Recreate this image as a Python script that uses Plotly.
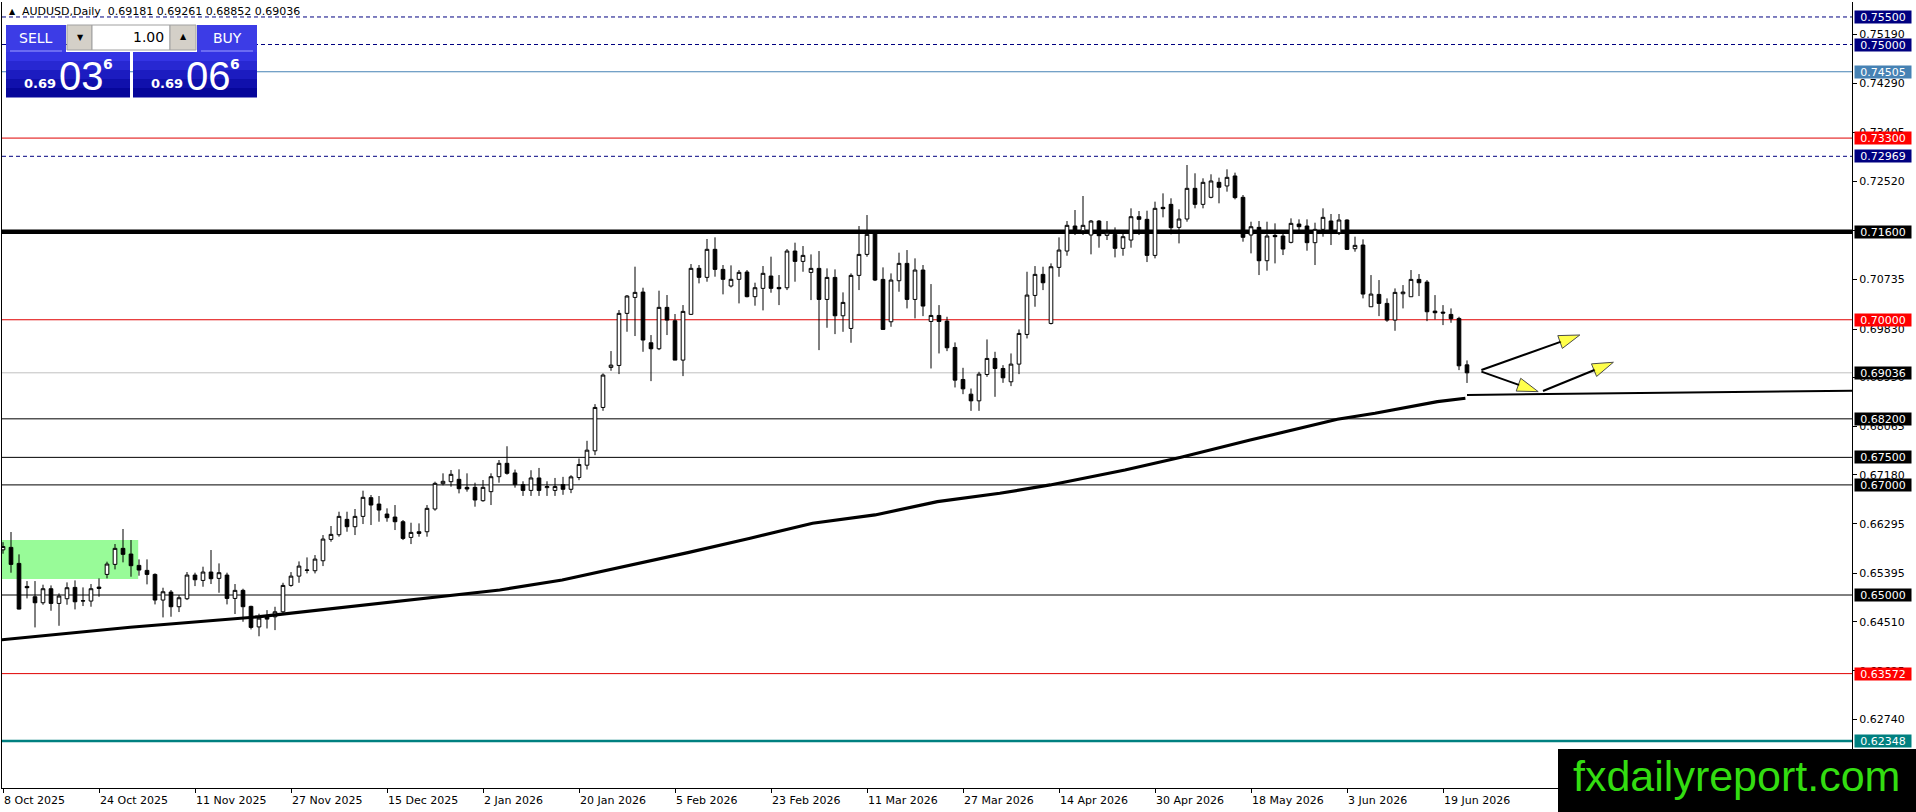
import plotly.graph_objects as go

# ---------------- DATA ----------------
opens = [0.6582,0.65865,0.65574,0.65156,0.64968,0.64859,0.65114,0.64847,0.64932,0.65138,
0.64890,0.64890,0.65144,0.65374,0.65556,0.65847,0.65744,0.65538,0.65447,0.65374,
0.64908,0.65053,0.64787,0.64932,0.65362,0.65265,0.65417,0.65302,0.65362,0.64938,
0.65084,0.64793,0.64420,0.64604,0.64604,0.64695,0.65174,0.65343,0.65447,0.65441,
0.65622,0.66010,0.66095,0.66374,0.66240,0.66428,0.66768,0.66652,0.66471,0.66416,
0.66331,0.66046,0.66149,0.66149,0.66562,0.67022,0.67058,0.67101,0.66955,0.66955,
0.66713,0.66877,0.67149,0.67392,0.67217,0.67005,0.66900,0.67126,0.66950,0.66900,
0.67005,0.66920,0.67134,0.67358,0.67619,0.68407,0.69134,0.69170,0.70116,0.70406,
0.70503,0.69582,0.69473,0.70225,0.69982,0.69267,0.70098,0.70934,0.70770,0.71279,
0.70915,0.70613,0.70734,0.70867,0.70419,0.70570,0.70794,0.70587,0.70581,0.71248,
0.71060,0.70860,0.70933,0.70369,0.70769,0.70072,0.69842,0.70806,0.71187,0.71569,
0.70733,0.69963,0.70709,0.71024,0.70369,0.70903,0.69969,0.70078,0.69975,0.69497,
0.68915,0.68648,0.68527,0.69006,0.69297,0.69115,0.68873,0.69194,0.69733,0.70442,
0.70824,0.69933,0.70951,0.71248,0.71703,0.71618,0.71539,0.71793,0.71533,0.71551,
0.71297,0.71448,0.71872,0.71824,0.71169,0.72042,0.72096,0.71678,0.71830,0.72387,
0.72096,0.72224,0.72496,0.72430,0.72612,0.72224,0.71539,0.71678,0.71072,0.71533,
0.71521,0.71406,0.71739,0.71703,0.71400,0.71642,0.71794,0.71581,0.71812,0.71290,
0.71357,0.70236,0.70460,0.70297,0.69994,0.70472,0.70418,0.70733,0.70684,0.70157,
0.70139,0.70097,0.70024,0.69181]
highs = [0.6596,0.66144,0.65738,0.65253,0.65253,0.65187,0.65174,0.65029,0.65229,0.65265,
0.65138,0.65199,0.65302,0.65605,0.65926,0.66199,0.65999,0.65647,0.65647,0.65393,
0.65132,0.65090,0.64999,0.65417,0.65405,0.65514,0.65817,0.65574,0.65405,0.65199,
0.65114,0.64805,0.64660,0.64725,0.64786,0.65222,0.65416,0.65610,0.65683,0.65725,
0.66089,0.66253,0.66513,0.66513,0.66562,0.66895,0.66816,0.66798,0.66574,0.66634,
0.66362,0.66313,0.66301,0.66634,0.67058,0.67210,0.67270,0.67283,0.67210,0.67040,
0.67089,0.67210,0.67452,0.67702,0.67278,0.67066,0.67266,0.67308,0.67066,0.67126,
0.67146,0.67176,0.67479,0.67801,0.68467,0.69025,0.69431,0.70176,0.70449,0.70964,
0.70582,0.69722,0.70528,0.70449,0.70104,0.70267,0.71012,0.70994,0.71467,0.71497,
0.70994,0.70988,0.70903,0.70903,0.70673,0.70976,0.71146,0.70812,0.71284,0.71400,
0.71339,0.71187,0.71248,0.70933,0.70915,0.70497,0.70842,0.71702,0.71902,0.71600,
0.70951,0.70842,0.71218,0.71266,0.71115,0.70994,0.70648,0.70266,0.70054,0.69588,
0.69127,0.68751,0.69054,0.69642,0.69418,0.69175,0.69388,0.69824,0.70872,0.70975,
0.70963,0.71024,0.71496,0.71793,0.71993,0.72248,0.71812,0.71812,0.71793,0.71678,
0.71569,0.72024,0.71975,0.71981,0.72145,0.72296,0.72206,0.72006,0.72811,0.72660,
0.72569,0.72642,0.72581,0.72733,0.72672,0.72266,0.71781,0.71793,0.71781,0.71751,
0.71600,0.71842,0.71824,0.71824,0.71763,0.72024,0.71921,0.71921,0.71824,0.71509,
0.71460,0.70812,0.70721,0.70388,0.70569,0.70630,0.70903,0.70830,0.70721,0.70448,
0.70266,0.70206,0.70054,0.69261]
lows = [0.6575,0.65405,0.64738,0.64938,0.64411,0.64823,0.64714,0.64441,0.64823,0.64738,
0.64799,0.64787,0.64968,0.65302,0.65465,0.65593,0.65332,0.65350,0.65193,0.64829,
0.64593,0.64605,0.64690,0.64908,0.65162,0.65150,0.65199,0.65041,0.64829,0.64654,
0.64514,0.64375,0.64250,0.64392,0.64362,0.64665,0.65150,0.65222,0.65392,0.65392,
0.65525,0.65968,0.66059,0.66149,0.66089,0.66289,0.66271,0.66331,0.66331,0.66180,
0.65998,0.65925,0.66059,0.66059,0.66531,0.66992,0.66967,0.66846,0.66877,0.66604,
0.66695,0.66634,0.67040,0.67186,0.66950,0.66800,0.66800,0.66800,0.66800,0.66800,
0.66820,0.66850,0.67086,0.67279,0.67540,0.68346,0.69073,0.69013,0.69782,0.69704,
0.69418,0.68885,0.69449,0.69722,0.69267,0.68976,0.70086,0.70661,0.70691,0.70782,
0.70461,0.70588,0.70297,0.70407,0.70255,0.70170,0.70491,0.70266,0.70539,0.70691,
0.70872,0.70357,0.69448,0.69854,0.69739,0.69781,0.69582,0.70539,0.71145,0.70703,
0.69824,0.69872,0.70509,0.70206,0.70024,0.70066,0.69115,0.69388,0.69430,0.68770,
0.68648,0.68345,0.68345,0.68963,0.68600,0.68854,0.68794,0.69012,0.69660,0.70236,
0.70539,0.69915,0.70781,0.71163,0.71539,0.71539,0.71188,0.71309,0.71448,0.71133,
0.71163,0.71309,0.71539,0.71048,0.71115,0.71860,0.71551,0.71387,0.71781,0.72024,
0.72024,0.72206,0.72115,0.72327,0.72187,0.71418,0.71206,0.70812,0.70891,0.71024,
0.71175,0.71387,0.71630,0.71254,0.70994,0.71509,0.71357,0.71539,0.71266,0.71236,
0.70388,0.70236,0.70066,0.69963,0.69800,0.70206,0.70418,0.70430,0.69975,0.70006,
0.69903,0.69945,0.69085,0.68852]
closes = [0.6588,0.65556,0.64744,0.65132,0.64859,0.65114,0.64847,0.64981,0.65132,0.64877,
0.64895,0.65114,0.65120,0.65562,0.65847,0.65738,0.65532,0.65453,0.65374,0.64908,
0.65059,0.64787,0.64950,0.65362,0.65277,0.65417,0.65296,0.65405,0.64938,0.65084,
0.64787,0.64411,0.64580,0.64562,0.64695,0.65174,0.65343,0.65525,0.65453,0.65652,
0.66016,0.66101,0.66428,0.66240,0.66428,0.66774,0.66634,0.66543,0.66404,0.66331,
0.66028,0.66137,0.66119,0.66574,0.67028,0.67065,0.67192,0.66931,0.66925,0.66725,
0.66955,0.67149,0.67392,0.67210,0.67005,0.66900,0.67126,0.66900,0.66970,0.66970,
0.66920,0.67146,0.67370,0.67631,0.68407,0.68995,0.69176,0.70116,0.70431,0.70497,
0.69631,0.69473,0.70225,0.69994,0.69267,0.70152,0.70934,0.70770,0.71279,0.70915,
0.70734,0.70734,0.70861,0.70419,0.70582,0.70843,0.70570,0.70563,0.71248,0.71060,
0.71169,0.70933,0.70369,0.70769,0.70072,0.70315,0.70806,0.71187,0.71551,0.70721,
0.69824,0.70721,0.71024,0.70369,0.70903,0.70248,0.70078,0.69969,0.69491,0.68903,
0.68745,0.68527,0.69012,0.69297,0.69115,0.68945,0.69194,0.69751,0.70448,0.70824,
0.70672,0.70963,0.71266,0.71715,0.71618,0.71715,0.71793,0.71527,0.71581,0.71297,
0.71509,0.71872,0.71824,0.71169,0.72024,0.72018,0.71672,0.71830,0.72387,0.72096,
0.72496,0.72521,0.72406,0.72587,0.72218,0.71497,0.71690,0.71072,0.71521,0.71509,
0.71284,0.71751,0.71690,0.71400,0.71642,0.71860,0.71581,0.71812,0.71278,0.71351,
0.70466,0.70466,0.70297,0.69994,0.70497,0.70503,0.70733,0.70672,0.70145,0.70127,
0.70121,0.70018,0.69163,0.69036]

# moving average (read at sample bars)
ma_bars = [-0.4, 15.9, 32.1, 47.1, 62.1, 69.9, 77.75, 85.6, 93.4, 101.2, 109.0, 116.8,
           124.6, 130.9, 140.25, 147.25, 155.9, 166.8, 171.5, 179.3, 182.8]
ma_values = [0.64183, 0.64414, 0.64606, 0.64850, 0.65091, 0.65273, 0.65515, 0.65769, 0.66030,
             0.66303, 0.66454, 0.66695, 0.66848, 0.66999, 0.67271, 0.67502, 0.67816, 0.68192,
             0.68301, 0.68512, 0.68574]

# trend line extending from the MA
trend_bars = [183.0, 231.2]
trend_values = [0.68633, 0.68712]

# projection arrows: (start bar, start price, end bar, end price)
arrow_start_bars = [184.8, 184.8, 192.5]
arrow_start_prices = [0.69088, 0.69057, 0.68706]
arrow_end_bars = [197.1, 191.9, 201.3]
arrow_end_prices = [0.69723, 0.68694, 0.69228]

# horizontal levels
level_prices = [0.75500, 0.75000, 0.74505, 0.73300, 0.72969, 0.71600, 0.70000,
                0.69036, 0.68200, 0.67500, 0.67000, 0.65000, 0.63572, 0.62348]
level_kinds = ["dash", "dash", "steel", "red", "dash", "thick", "red",
               "bid", "plain", "plain", "plain", "plain", "red", "teal"]

# green zone
zone_bars = [-2, 16.9]
zone_prices = [0.65290, 0.66000]

# axis ticks
price_ticks = [0.75190, 0.74290, 0.73405, 0.72520, 0.71630, 0.70735, 0.69830, 0.68950,
               0.68065, 0.67180, 0.66295, 0.65395, 0.64510, 0.63625, 0.62740]
date_tick_bars = [0, 12, 24, 36, 48, 60, 72, 84, 96, 108, 120, 132, 144, 156, 168, 180]
date_labels = ["8 Oct 2025", "24 Oct 2025", "11 Nov 2025", "27 Nov 2025", "15 Dec 2025",
               "2 Jan 2026", "20 Jan 2026", "5 Feb 2026", "23 Feb 2026", "11 Mar 2026",
               "27 Mar 2026", "14 Apr 2026", "30 Apr 2026", "18 May 2026", "3 Jun 2026",
               "19 Jun 2026"]

symbol = "AUDUSD,Daily"
bid_text = ["0.69", "03", "6"]
ask_text = ["0.69", "06", "6"]
lot_text = "1.00"
watermark = "fxdailyreport.com"

# ---------------- LAYOUT GEOMETRY ----------------
W, H = 1916, 812
PL, PR, PT, PB = 2, 1852, 2, 788
X_RANGE = [-0.125, 231.125]
Y_RANGE = [0.61494, 0.75772]
FONT = "DejaVu Sans"


def px(x):
    return (x - PL) / (PR - PL)


def py(y):
    return (PB - y) / (PB - PT)


fig = go.Figure()

fig.add_trace(go.Candlestick(
    x=list(range(len(opens))), open=opens, high=highs, low=lows, close=closes,
    increasing=dict(line=dict(color="black", width=1), fillcolor="white"),
    decreasing=dict(line=dict(color="black", width=1), fillcolor="black"),
    whiskerwidth=0, hoverinfo="skip", showlegend=False))

fig.add_trace(go.Scatter(x=ma_bars, y=ma_values, mode="lines",
                         line=dict(color="black", width=3.2), hoverinfo="skip", showlegend=False))
fig.add_trace(go.Scatter(x=trend_bars, y=trend_values, mode="lines",
                         line=dict(color="black", width=2), hoverinfo="skip", showlegend=False))

for xs, ys, xe, ye in zip(arrow_start_bars, arrow_start_prices, arrow_end_bars, arrow_end_prices):
    fig.add_trace(go.Scatter(
        x=[xs, xe], y=[ys, ye], mode="lines+markers",
        line=dict(color="black", width=2),
        marker=dict(symbol="arrow", size=[0, 22], angleref="previous", color="#ffff00",
                    line=dict(color="black", width=1)),
        hoverinfo="skip", showlegend=False))

shapes = []
annotations = []

style = {
    "dash": dict(color="#000080", width=1, dash="4px,3px", bg="#000080"),
    "steel": dict(color="#4682b4", width=1, dash="solid", bg="#4682b4"),
    "red": dict(color="#e00000", width=1, dash="solid", bg="#ff0000"),
    "thick": dict(color="black", width=4.5, dash="solid", bg="black"),
    "bid": dict(color="#c0c0c0", width=1, dash="solid", bg="black"),
    "plain": dict(color="black", width=1, dash="solid", bg="black"),
    "teal": dict(color="#008080", width=2.5, dash="solid", bg="#008080"),
}

# green zone
shapes.append(dict(type="rect", xref="x", yref="y", x0=zone_bars[0], x1=zone_bars[1],
                   y0=zone_prices[0], y1=zone_prices[1], fillcolor="#98fb98",
                   line=dict(width=0), layer="below"))

for p, k in zip(level_prices, level_kinds):
    s = style[k]
    shapes.append(dict(type="line", xref="paper", yref="y", x0=0, x1=1, y0=p, y1=p,
                       line=dict(color=s["color"], width=s["width"], dash=s["dash"]),
                       layer="below"))
    annotations.append(dict(xref="paper", yref="y", x=1, y=p, xanchor="left", yanchor="middle",
                            xshift=2, text=f"{p:.5f}", showarrow=False, bgcolor=s["bg"],
                            font=dict(family=FONT, size=11, color="white"),
                            width=56, height=12, align="center", borderpad=0))

# date labels
for b, lab in zip(date_tick_bars, date_labels):
    annotations.append(dict(xref="x", yref="paper", x=b, y=py(800), xanchor="left",
                            yanchor="middle", text=lab, showarrow=False, xshift=-1,
                            font=dict(family=FONT, size=11, color="black")))

# title
annotations.append(dict(xref="paper", yref="paper", x=px(7), y=py(12), xanchor="left",
                        yanchor="middle", showarrow=False, text="▲",
                        font=dict(family=FONT, size=8, color="black")))
annotations.append(dict(xref="paper", yref="paper", x=px(20), y=py(12), xanchor="left",
                        yanchor="middle", showarrow=False,
                        text=f"{symbol}  {opens[-1]:.5f} {highs[-1]:.5f} {lows[-1]:.5f} {closes[-1]:.5f}",
                        font=dict(family=FONT, size=11, color="black")))


def rect(x0, y0, x1, y1, fill, line_color=None, lw=0):
    shapes.append(dict(type="rect", xref="paper", yref="paper", x0=px(x0), x1=px(x1),
                       y0=py(y1), y1=py(y0), fillcolor=fill,
                       line=dict(color=line_color or fill, width=lw), layer="above"))


def text(x, y, t, size, color="white", family=FONT, anchor="center", bold=False):
    if bold:
        t = f"<b>{t}</b>"
    annotations.append(dict(xref="paper", yref="paper", x=px(x), y=py(y), xanchor=anchor,
                            yanchor="middle", showarrow=False, text=t,
                            font=dict(family=family, size=size, color=color)))


# one-click trading panel
rect(6, 25, 66, 52, "#3c3ce6")
rect(197, 25, 257, 52, "#3c3ce6")
rect(67, 25, 92, 50, "#d4d0c8", "#a0a0a0", 1)
rect(92, 25, 170, 50, "white", "#a0a0a0", 1)
rect(170, 25, 196, 50, "#d4d0c8", "#a0a0a0", 1)
shapes.append(dict(type="line", xref="paper", yref="paper", x0=px(10), x1=px(62),
                   y0=py(51), y1=py(51), line=dict(color="#9a9aff", width=1), layer="above"))
shapes.append(dict(type="line", xref="paper", yref="paper", x0=px(201), x1=px(253),
                   y0=py(51), y1=py(51), line=dict(color="#9a9aff", width=1), layer="above"))
bands = ["#3434e4", "#2828d2", "#1c1cc0", "#1010ac", "#06069a"]
for x0, x1 in [(6, 130), (133, 257)]:
    for i, c in enumerate(bands):
        rect(x0, 52 + i * 9, x1, 52 + (i + 1) * 9 + 0.5, c)

text(36, 38, "SELL", 14)
text(227, 38, "BUY", 14)
text(80, 38, "▼", 8, color="black")
text(183, 37, "▲", 8, color="black")
text(166, 37, lot_text, 14, color="black", anchor="right")
for xs, parts in [(0, bid_text), (127, ask_text)]:
    text(40 + xs, 83, parts[0], 13, bold=True)
    text(81 + xs, 76, parts[1], 40, family="Liberation Sans")
    text(108 + xs, 64, parts[2], 14, bold=True)

# watermark
rect(1558, 749, 1916, 812, "black")
text(1736, 776, watermark, 43, color="#33dd11", family="Liberation Sans")

fig.update_layout(
    width=W, height=H,
    margin=dict(l=PL, r=W - PR, t=PT, b=H - PB, pad=0),
    paper_bgcolor="white", plot_bgcolor="white",
    showlegend=False, boxgap=0.35,
    shapes=shapes, annotations=annotations,
    xaxis=dict(range=X_RANGE, showgrid=False, zeroline=False, showline=True,
               linecolor="black", linewidth=1, ticks="outside", ticklen=4, tickcolor="black",
               tickvals=date_tick_bars, showticklabels=False,
               rangeslider=dict(visible=False), fixedrange=True),
    yaxis=dict(range=Y_RANGE, side="right", showgrid=False, zeroline=False, showline=True,
               mirror=True, linecolor="black", linewidth=1, ticks="outside", ticklen=4,
               tickcolor="black", tickvals=price_ticks,
               ticktext=[f"{v:.5f}" for v in price_ticks],
               tickfont=dict(family=FONT, size=11, color="black"), fixedrange=True),
)

fig.write_html("out.html", config={"displayModeBar": False},
               post_script="document.body.style.margin='0';document.body.style.overflow='hidden';")
